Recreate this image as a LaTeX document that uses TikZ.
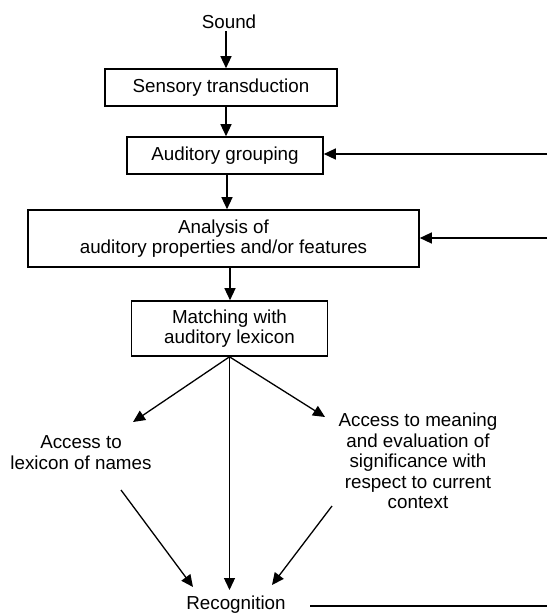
\documentclass[tikz,border=0pt]{standalone}
\usepackage{fontspec}
\setmainfont{Liberation Sans}
\usetikzlibrary{arrows.meta}

\tikzset{
  stagebox/.style={draw=black, line width=1.6pt, inner sep=2pt, align=center,
                   font=\fontsize{18.8}{20.5}\selectfont},
  label text/.style={inner sep=2pt, align=center,
                     font=\fontsize{18.8}{20.5}\selectfont},
  flow/.style={line width=1.3pt, -{Triangle[length=12pt,width=11pt]}},
  plainline/.style={line width=1.3pt}
}

\begin{document}
\begin{tikzpicture}[x=1pt, y=-1pt]
  \useasboundingbox (0,0) rectangle (547,613);
  \fill[white] (0,0) rectangle (547,613);

  % processing stages
  \node[label text] (sound) at (229,22) {Sound};
  \node[stagebox, minimum width=232pt, minimum height=37pt] (b1) at (221,87.5) {Sensory transduction};
  \node[stagebox, minimum width=196pt, minimum height=37pt] (b2) at (225,155.5) {Auditory grouping};
  \node[stagebox, minimum width=391pt, minimum height=57pt] (b3) at (223.5,238.5) {Analysis of\\auditory properties and/or features};
  \node[stagebox, minimum width=196pt, minimum height=55pt] (b4) at (229.5,328.5) {Matching with\\auditory lexicon};

  % outcomes
  \node[label text] (lex) at (81,452.5) {Access to\\lexicon of names};
  \node[label text] (mean) at (418,461) {Access to meaning\\and evaluation of\\significance with\\respect to current\\context};
  \node[label text] (rec) at (236,605) {Recognition};

  % columns of the vertical connectors
  \coordinate (c1) at (226,0);
  \coordinate (c2) at (227,0);
  \coordinate (c3) at (230,0);

  % ends of the slanted connectors
  \coordinate (lexin) at (133,422);
  \coordinate (meanin) at (325,417);
  \coordinate (lexout) at (121,490);
  \coordinate (meanout) at (332,506);
  \coordinate (recl) at (193,587);
  \coordinate (recm) at (231,590);
  \coordinate (recr) at (272,585);

  % feedback lines entering from the right
  \coordinate (fb1) at (547,154);
  \coordinate (fb2) at (547,238);
  \coordinate (fbs) at (310,606);
  \coordinate (fb3) at (547,606);

  % main flow
  \draw[flow] (sound.south -| c1) -- (b1.north -| c1);
  \draw[flow] (b1.south -| c1) -- (b2.north -| c1);
  \draw[flow] (b2.south -| c2) -- (b3.north -| c2);
  \draw[flow] (b3.south -| c3) -- (b4.north -| c3);

  % branches from the lexicon match
  \draw[flow] (b4.south) -- (lexin);
  \draw[flow] (b4.south) -- (b4.south |- recm);
  \draw[flow] (b4.south) -- (meanin);
  \draw[flow] (lexout) -- (recl);
  \draw[flow] (meanout) -- (recr);

  % feedback
  \draw[flow] (fb1) -- (fb1 -| b2.east);
  \draw[flow] (fb2) -- (fb2 -| b3.east);
  \draw[plainline] (fbs) -- (fb3);
\end{tikzpicture}
\end{document}
